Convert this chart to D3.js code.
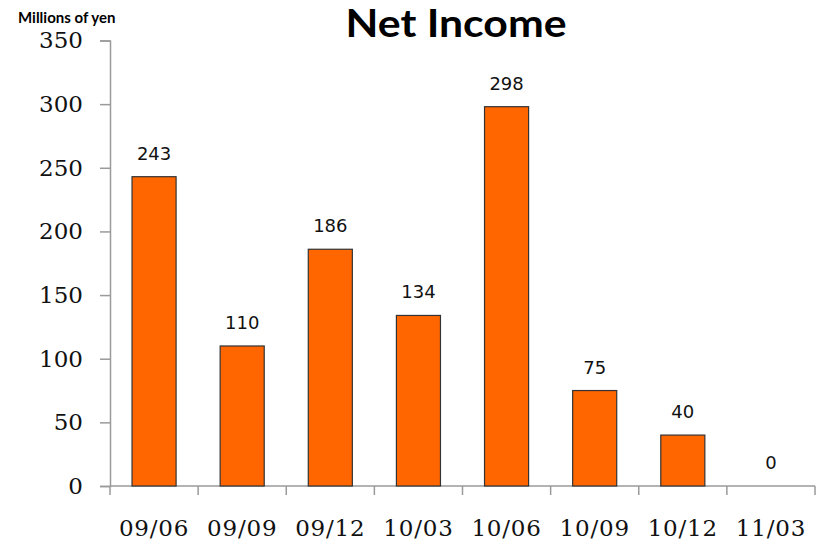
<!DOCTYPE html>
<html>
<head>
<meta charset="utf-8">
<script src="https://cdn.jsdelivr.net/npm/d3@7"></script>
<style>
  html, body { margin: 0; padding: 0; background: #fff; }
  svg { display: block; }
</style>
</head>
<body>
<svg id="chart" width="821" height="542"></svg>
<script>
// Quarterly net income, millions of yen
const periods = ["09/06", "09/09", "09/12", "10/03", "10/06", "10/09", "10/12", "11/03"];
const netIncome = [243, 110, 186, 134, 298, 75, 40, 0];
const yTicks = [0, 50, 100, 150, 200, 250, 300, 350];

const svg = d3.select("#chart");
const plot = { left: 110, right: 815, top: 40.5, bottom: 486 };

const x = d3.scaleBand()
  .domain(periods)
  .range([plot.left, plot.right])
  .paddingInner(0.5)
  .paddingOuter(0.25);

const y = d3.scaleLinear()
  .domain([0, 350])
  .range([plot.bottom, plot.top]);

const axisColor = "#9a9a9a";

// Y axis
const yAxis = svg.append("g")
  .attr("transform", `translate(${plot.left},0)`)
  .call(d3.axisLeft(y).tickValues(yTicks).tickSize(10).tickPadding(17));
yAxis.select(".domain").attr("stroke", axisColor).attr("stroke-width", 1.5);
yAxis.selectAll(".tick line").attr("stroke", axisColor).attr("stroke-width", 1.5);
yAxis.selectAll(".tick text")
  .attr("fill", "#111")
  .style("font-family", "'DejaVu Serif', serif")
  .style("font-size", "23px");

// X axis with tick marks on category boundaries
const xAxisG = svg.append("g").attr("transform", `translate(0,${plot.bottom})`);
xAxisG.append("line")
  .attr("x1", plot.left).attr("x2", plot.right)
  .attr("stroke", axisColor).attr("stroke-width", 1.5);
const boundaries = d3.range(periods.length + 1).map(i => plot.left + i * (plot.right - plot.left) / periods.length);
xAxisG.selectAll(".xtick")
  .data(boundaries)
  .join("line")
  .attr("x1", d => d).attr("x2", d => d)
  .attr("y1", 0).attr("y2", 9)
  .attr("stroke", axisColor).attr("stroke-width", 1.5);
xAxisG.selectAll(".xlabel")
  .data(periods)
  .join("text")
  .attr("x", d => x(d) + x.bandwidth() / 2)
  .attr("y", 50)
  .attr("text-anchor", "middle")
  .attr("fill", "#111")
  .style("font-family", "'DejaVu Serif', serif")
  .style("font-size", "23px")
  .style("letter-spacing", "0.8px")
  .text(d => d);

// Bars
const data = periods.map((p, i) => ({ period: p, value: netIncome[i] }));
svg.append("g")
  .selectAll("rect")
  .data(data.filter(d => d.value > 0))
  .join("rect")
  .attr("x", d => x(d.period))
  .attr("y", d => y(d.value))
  .attr("width", x.bandwidth())
  .attr("height", d => y(0) - y(d.value))
  .attr("fill", "#FF6600")
  .attr("stroke", "#333")
  .attr("stroke-width", 1.2);

// Value labels
svg.append("g")
  .selectAll("text")
  .data(data)
  .join("text")
  .attr("x", d => x(d.period) + x.bandwidth() / 2)
  .attr("y", d => y(d.value) - 17)
  .attr("text-anchor", "middle")
  .attr("fill", "#111")
  .style("font-family", "'DejaVu Sans', sans-serif")
  .style("font-size", "18px")
  .text(d => d.value);

// Titles
svg.append("text")
  .attr("x", 456)
  .attr("y", 37)
  .attr("text-anchor", "middle")
  .attr("fill", "#000")
  .attr("textLength", 221)
  .attr("lengthAdjust", "spacingAndGlyphs")
  .style("font-family", "Lato, 'Open Sans', sans-serif")
  .style("font-weight", "bold")
  .style("font-size", "38px")
  .text("Net Income");

svg.append("text")
  .attr("x", 18)
  .attr("y", 23)
  .attr("fill", "#000")
  .style("font-family", "Lato, 'Open Sans', sans-serif")
  .style("font-weight", "bold")
  .style("font-size", "15px")
  .text("Millions of yen");
</script>
</body>
</html>
